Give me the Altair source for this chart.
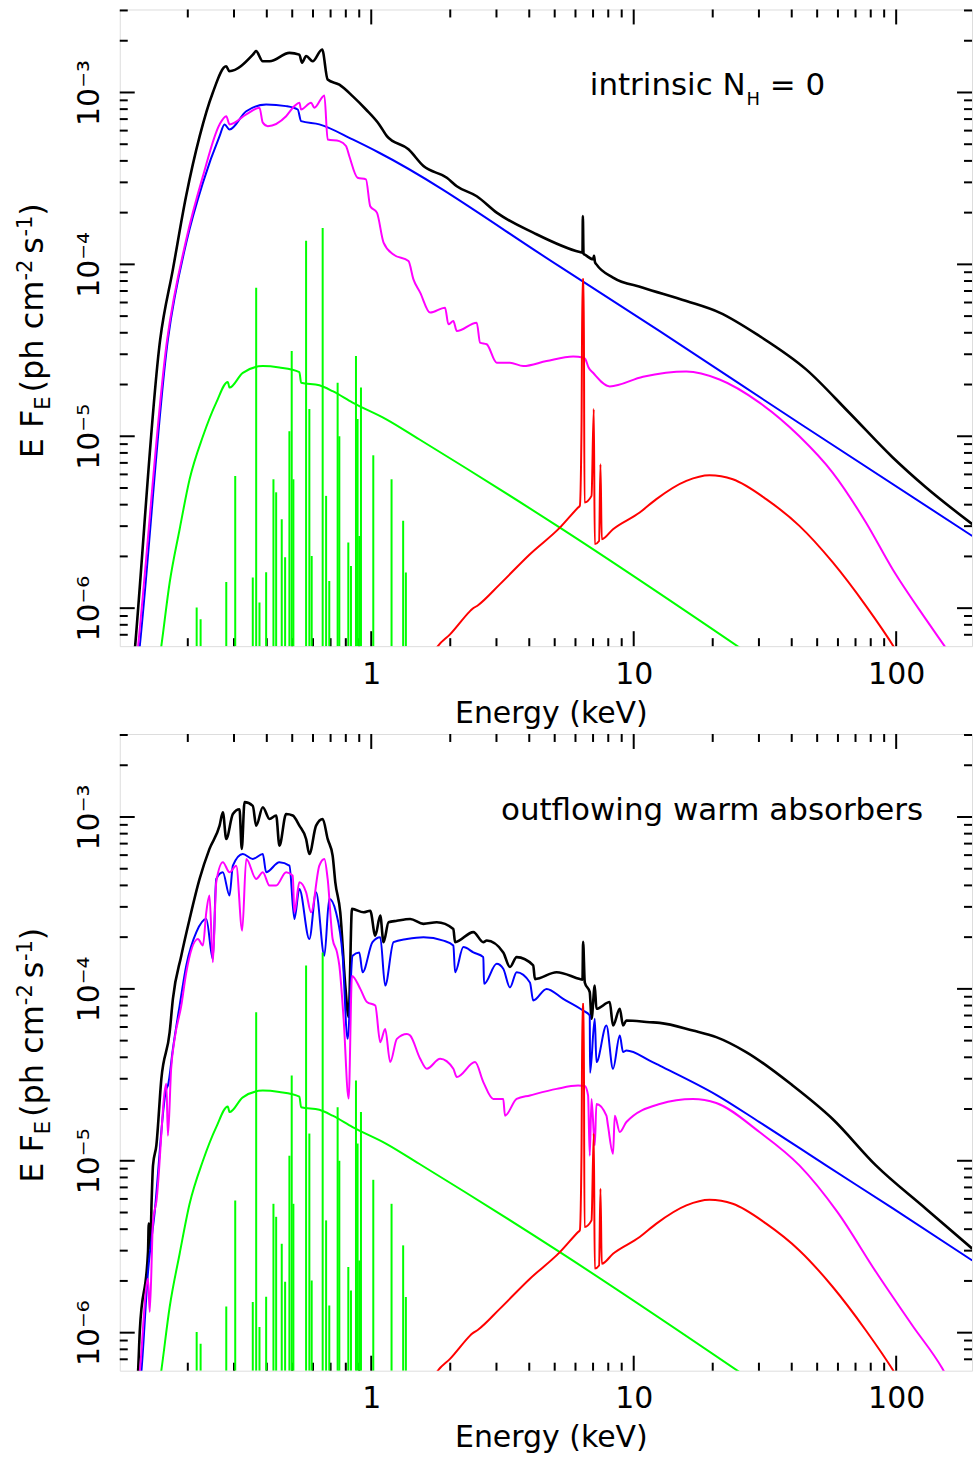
import altair as alt
import pandas as pd

# ---------------- data: energy (keV) and E F_E (ph cm^-2 s^-1) ----------------
# top panel: intrinsic N_H = 0
top_total_E = [0.12, 0.126, 0.157, 0.1755, 0.197, 0.222, 0.249, 0.280, 0.288, 0.354, 0.364, 0.386, 0.410, 0.488,
               0.532, 0.545, 0.565, 0.598, 0.650, 0.682, 0.756, 0.849, 0.955, 1.072, 1.147, 1.386, 1.581, 1.941,
               2.118, 2.523, 3.006, 4.141, 6.233, 6.38, 6.40, 6.44, 6.51, 7.00, 7.06, 7.12, 7.21, 8.34, 10.85,
               15.87, 21.23, 30.13, 45.37, 66.27, 96.8, 129.7, 195.0]
top_total_F = [2.5e-7, 6.01e-7, 3.66e-5, 9.35e-5, 2.49e-4, 5.57e-4, 9.96e-4, 1.42e-3, 1.33e-3, 1.66e-3, 1.74e-3,
               1.52e-3, 1.52e-3, 1.70e-3, 1.66e-3, 1.49e-3, 1.63e-3, 1.52e-3, 1.78e-3, 1.19e-3, 1.11e-3, 9.52e-4,
               7.96e-4, 6.52e-4, 5.57e-4, 4.67e-4, 3.73e-4, 3.19e-4, 2.85e-4, 2.49e-4, 2.00e-4, 1.53e-4, 1.18e-4,
               1.17e-4, 1.91e-4, 1.15e-4, 1.14e-4, 1.07e-4, 1.12e-4, 1.03e-4, 1.00e-4, 8.38e-5, 7.32e-5, 6.12e-5,
               5.24e-5, 3.83e-5, 2.45e-5, 1.37e-5, 7.55e-6, 5.05e-6, 3.08e-6]

top_powerlaw_E = [0.125, 0.1312, 0.168, 0.1974, 0.2284, 0.2643, 0.2761, 0.2884, 0.334, 0.3977, 0.4739, 0.5246,
                  0.5404, 0.6342, 0.849, 1.072, 5.232, 12.56, 42.78, 195.0]
top_powerlaw_F = [3.0e-7, 6.0e-7, 3.66e-5, 1.34e-4, 2.99e-4, 5.57e-4, 6.52e-4, 6.09e-4, 7.78e-4, 8.52e-4, 8.33e-4,
                  7.96e-4, 6.81e-4, 6.52e-4, 5.33e-4, 4.46e-4, 9.70e-5, 4.09e-5, 1.19e-5, 2.63e-6]

top_reflect_E = [0.1234, 0.1293, 0.1669, 0.1974, 0.2284, 0.2643, 0.2803, 0.2884, 0.334, 0.3751, 0.3862, 0.4035,
                 0.4739, 0.5096, 0.5323, 0.5404, 0.5898, 0.6071, 0.6628, 0.6822, 0.7557, 0.8013, 0.8246, 0.887,
                 0.9546, 0.991, 1.051, 1.114, 1.216, 1.386, 1.448, 1.536, 1.676, 1.911, 1.967, 2.055, 2.118, 2.523,
                 2.597, 2.754, 3.006, 3.377, 3.794, 4.657, 5.877, 6.415, 6.55, 6.73, 7.0, 8.102, 10.85, 15.87,
                 21.23, 30.13, 42.78, 57.25, 76.7, 96.8, 129.7, 152.2, 181.4]
top_reflect_F = [3.0e-7, 6.0e-7, 3.66e-5, 1.40e-4, 3.26e-4, 6.52e-4, 7.28e-4, 6.52e-4, 7.45e-4, 8.15e-4, 6.67e-4,
                 6.37e-4, 7.28e-4, 8.33e-4, 8.71e-4, 7.96e-4, 8.71e-4, 8.15e-4, 9.61e-4, 5.33e-4, 5.21e-4, 4.88e-4,
                 4.27e-4, 3.19e-4, 3.12e-4, 2.18e-4, 2.00e-4, 1.34e-4, 1.14e-4, 1.045e-4, 8.18e-5, 6.85e-5, 5.24e-5,
                 5.60e-5, 4.48e-5, 4.68e-5, 4.09e-5, 4.58e-5, 3.51e-5, 3.43e-5, 2.68e-5, 2.68e-5, 2.56e-5, 2.74e-5,
                 2.91e-5, 2.87e-5, 2.80e-5, 2.51e-5, 2.34e-5, 1.95e-5, 2.22e-5, 2.38e-5, 2.14e-5, 1.57e-5, 1.00e-5,
                 6.15e-6, 3.15e-6, 1.69e-6, 8.63e-7, 6.07e-7, 4.13e-7]

# components common to both panels
hump_E = [1.72, 1.782, 2.0, 2.379, 2.42, 2.552, 3.094, 4.023, 5.232, 6.14, 6.233, 6.325, 6.38, 6.45, 6.493, 6.906,
          7.045, 7.106, 7.38, 7.47, 7.555, 8.34, 10.54, 12.2, 15.87, 19.45, 23.85, 31.96, 42.78, 57.25, 76.7,
          98.3, 107.3]
hump_F = [5.41e-7, 5.93e-7, 7.06e-7, 9.61e-7, 9.86e-7, 1.04e-6, 1.38e-6, 2.06e-6, 2.94e-6, 3.85e-6, 3.94e-6,
          1.10e-5, 8.18e-5, 8.18e-5, 4.12e-6, 4.50e-6, 1.44e-5, 2.36e-6, 2.46e-6, 6.87e-6, 2.52e-6, 2.88e-6,
          3.60e-6, 4.31e-6, 5.50e-6, 5.93e-6, 5.62e-6, 4.31e-6, 3.01e-6, 1.85e-6, 1.03e-6, 5.9e-7, 4.72e-7]

soft_E = [0.155, 0.1586, 0.1706, 0.1862, 0.2032, 0.2284, 0.2567, 0.2841, 0.2884, 0.3241, 0.3862, 0.4468, 0.5323,
          0.5404, 0.6342, 0.7126, 0.849, 1.137, 1.522, 5.232, 25.3, 30.13]
soft_F = [4.72e-7, 6.04e-7, 1.41e-6, 2.88e-6, 5.62e-6, 1.00e-5, 1.57e-5, 2.07e-5, 1.92e-5, 2.34e-5, 2.56e-5,
          2.51e-5, 2.36e-5, 2.05e-5, 1.98e-5, 1.83e-5, 1.57e-5, 1.26e-5, 9.61e-6, 2.94e-6, 5.9e-7, 4.92e-7]

lines_E = [0.2162, 0.2238, 0.2803, 0.3032, 0.3537, 0.3644, 0.3751, 0.3977, 0.4240, 0.4342, 0.456, 0.4697, 0.4877,
           0.4977, 0.505, 0.5646, 0.581, 0.593, 0.653, 0.673, 0.692, 0.7446, 0.7557, 0.8177, 0.837, 0.8746, 0.887,
           0.9004, 0.9138, 1.018, 1.195, 1.323, 1.355]
lines_F = [1.01e-6, 8.63e-7, 1.42e-6, 5.88e-6, 1.51e-6, 7.32e-5, 1.08e-6, 1.62e-6, 5.62e-6, 4.72e-6, 3.29e-6,
           1.98e-6, 1.07e-5, 3.13e-5, 5.62e-6, 1.37e-4, 1.44e-5, 2.01e-6, 1.63e-4, 4.50e-6, 1.44e-6, 2.05e-5,
           1.00e-5, 2.41e-6, 1.76e-6, 2.93e-5, 1.26e-5, 2.63e-6, 1.92e-5, 7.75e-6, 5.62e-6, 3.22e-6, 1.61e-6]

# bottom panel: outflowing warm absorbers
wa_total_E = [0.1267, 0.1293, 0.1312, 0.1411, 0.142, 0.1438, 0.1457, 0.1474, 0.1518, 0.1586, 0.1706, 0.1755,
              0.1889, 0.2032, 0.2218, 0.2419, 0.2643, 0.272, 0.2803, 0.297, 0.3148, 0.3211, 0.329, 0.3537, 0.3644,
              0.3862, 0.4095, 0.4342, 0.4468, 0.4739, 0.5022, 0.5323, 0.5646, 0.581, 0.6163, 0.653, 0.6822,
              0.7126, 0.7296, 0.762, 0.7963, 0.8199, 0.8446, 0.9348, 0.991, 1.036, 1.082, 1.114, 1.164, 1.252,
              1.407, 1.581, 1.777, 2.055, 2.086, 2.449, 2.673, 2.754, 3.184, 3.377, 3.581, 4.141, 4.203, 5.084,
              6.233, 6.38, 6.415, 6.51, 6.80, 6.906, 7.106, 7.21, 8.102, 8.34, 8.85, 9.107, 9.38, 11.5, 12.56,
              16.81, 20.63, 26.82, 40.34, 57.25, 83.7, 129.7, 195.0]
wa_total_F = [4.42e-7, 5.93e-7, 1.01e-6, 2.96e-6, 4.31e-6, 3.08e-6, 6.01e-6, 9.40e-6, 1.23e-5, 3.00e-5, 5.60e-5,
              8.75e-5, 1.56e-4, 2.55e-4, 4.36e-4, 6.52e-4, 8.90e-4, 1.065e-3, 7.45e-4, 1.04e-3, 1.11e-3, 6.52e-4,
              1.22e-3, 1.16e-3, 8.90e-4, 1.14e-3, 9.74e-4, 1.02e-3, 6.81e-4, 1.04e-3, 1.02e-3, 8.90e-4, 7.45e-4,
              6.09e-4, 8.90e-4, 9.74e-4, 7.45e-4, 5.96e-4, 4.17e-4, 2.79e-4, 1.045e-4, 6.87e-5, 2.92e-4, 2.79e-4,
              2.85e-4, 2.04e-4, 2.67e-4, 1.87e-4, 2.44e-4, 2.49e-4, 2.55e-4, 2.39e-4, 2.44e-4, 2.23e-4, 1.87e-4,
              2.14e-4, 1.87e-4, 1.91e-4, 1.63e-4, 1.34e-4, 1.53e-4, 1.37e-4, 1.14e-4, 1.25e-4, 1.14e-4, 1.13e-4,
              1.88e-4, 1.09e-4, 9.57e-5, 6.70e-5, 1.045e-4, 7.66e-5, 8.38e-5, 6.12e-5, 7.66e-5, 6.12e-5, 6.55e-5,
              6.40e-5, 6.34e-5, 5.72e-5, 5.24e-5, 4.29e-5, 2.74e-5, 1.75e-5, 9.40e-6, 5.26e-6, 3.08e-6]

wa_powerlaw_E = [0.130, 0.1331, 0.1411, 0.1496, 0.1657, 0.168, 0.1755, 0.1862, 0.1974, 0.2156, 0.2352, 0.2492,
                 0.2567, 0.272, 0.2884, 0.297, 0.3241, 0.3537, 0.3862, 0.3977, 0.4468, 0.4877, 0.5096, 0.5323,
                 0.581, 0.6163, 0.6628, 0.692, 0.734, 0.778, 0.8127, 0.849, 0.9004, 0.9267, 1.011, 1.082, 1.130,
                 1.216, 1.367, 1.581, 1.883, 2.055, 2.086, 2.244, 2.449, 2.673, 2.69, 3.006, 3.184, 3.377, 3.581,
                 4.023, 4.141, 4.657, 5.385, 6.415, 6.80, 6.82, 7.106, 7.21, 7.87, 8.34, 8.85, 9.107, 9.38, 11.5,
                 12.56, 20.63, 30.13, 54.05, 96.8, 195.0]
wa_powerlaw_F = [4.13e-7, 5.93e-7, 2.26e-6, 5.05e-6, 2.62e-5, 2.74e-5, 4.48e-5, 8.00e-5, 1.37e-4, 2.14e-4, 2.55e-4,
                 1.49e-4, 4.36e-4, 4.77e-4, 3.49e-4, 5.21e-4, 6.09e-4, 5.70e-4, 6.09e-4, 4.77e-4, 5.45e-4, 5.21e-4,
                 2.55e-4, 3.81e-4, 1.95e-4, 3.65e-4, 1.56e-4, 3.34e-4, 2.79e-4, 1.56e-4, 5.12e-5, 1.56e-4, 1.63e-4,
                 1.25e-4, 1.87e-4, 2.00e-4, 1.045e-4, 1.87e-4, 1.95e-4, 2.00e-4, 1.91e-4, 1.79e-4, 1.25e-4, 1.75e-4,
                 1.63e-4, 1.53e-4, 1.07e-4, 1.40e-4, 1.31e-4, 1.02e-4, 1.25e-4, 1.09e-4, 8.55e-5, 1.0e-4, 8.75e-5,
                 7.48e-5, 7.0e-5, 3.25e-5, 6.70e-5, 3.75e-5, 6.12e-5, 3.43e-5, 5.35e-5, 4.29e-5, 4.38e-5, 3.83e-5,
                 3.58e-5, 2.42e-5, 1.68e-5, 9.4e-6, 5.3e-6, 2.63e-6]

wa_reflect_E = [0.1278, 0.1312, 0.1411, 0.1432, 0.1474, 0.1518, 0.1657, 0.168, 0.1728, 0.1782, 0.1889, 0.1974,
                0.2186, 0.2284, 0.2352, 0.2419, 0.2492, 0.2567, 0.272, 0.2884, 0.3059, 0.3223, 0.334, 0.3644,
                0.3862, 0.4095, 0.4342, 0.4739, 0.5022, 0.5096, 0.5323, 0.5646, 0.5898, 0.6342, 0.6628, 0.6822,
                0.7126, 0.7406, 0.7557, 0.7847, 0.82, 0.8446, 0.9083, 0.963, 1.036, 1.082, 1.130, 1.181, 1.252,
                1.367, 1.407, 1.536, 1.629, 1.83, 2.055, 2.118, 2.486, 2.673, 2.917, 3.184, 3.232, 3.581, 4.023,
                5.084, 6.14, 6.51, 6.70, 6.80, 6.906, 7.106, 7.21, 7.87, 7.98, 8.34, 8.47, 8.85, 9.38, 12.56,
                16.81, 20.63, 30.13, 42.78, 59.67, 83.7, 115.3, 150.0, 172.4]
wa_reflect_F = [4.13e-7, 5.93e-7, 2.06e-6, 1.32e-6, 4.42e-6, 5.78e-6, 2.81e-5, 1.40e-5, 3.43e-5, 5.12e-5, 8.0e-5,
                1.25e-4, 1.95e-4, 1.79e-4, 2.79e-4, 3.49e-4, 1.43e-4, 4.17e-4, 5.45e-4, 4.77e-4, 5.21e-4, 2.18e-4,
                5.70e-4, 4.36e-4, 4.77e-4, 3.99e-4, 3.99e-4, 4.77e-4, 4.56e-4, 2.79e-4, 4.17e-4, 3.65e-4, 2.79e-4,
                5.21e-4, 5.70e-4, 4.36e-4, 1.95e-4, 1.63e-4, 1.37e-4, 6.70e-5, 2.3e-5, 1.19e-4, 1.0e-4, 8.38e-5,
                8.0e-5, 4.90e-5, 5.85e-5, 3.75e-5, 5.12e-5, 5.47e-5, 5.35e-5, 3.92e-5, 3.43e-5, 3.92e-5, 3.43e-5,
                3.07e-5, 3.75e-5, 2.87e-5, 2.29e-5, 2.29e-5, 1.83e-5, 2.29e-5, 2.40e-5, 2.62e-5, 2.74e-5, 2.72e-5,
                2.40e-5, 1.07e-5, 2.29e-5, 1.23e-5, 2.14e-5, 1.83e-5, 1.60e-5, 1.10e-5, 1.83e-5, 1.47e-5, 1.68e-5,
                2.14e-5, 2.29e-5, 2.17e-5, 1.47e-5, 9.40e-6, 5.04e-6, 2.26e-6, 1.10e-6, 6.18e-7, 4.13e-7]

# axes
x_major = [1, 10, 100]
x_minor = [0.2, 0.3, 0.4, 0.5, 0.6, 0.7, 0.8, 0.9, 2, 3, 4, 5, 6, 7, 8, 9, 20, 30, 40, 50, 60, 70, 80, 90]
y_major = [1e-6, 1e-5, 1e-4, 1e-3]
y_major_labels = ["10⁻⁶", "10⁻⁵", "10⁻⁴", "10⁻³"]
y_minor = [7e-7, 8e-7, 9e-7, 2e-6, 3e-6, 4e-6, 5e-6, 6e-6, 7e-6, 8e-6, 9e-6, 2e-5, 3e-5, 4e-5, 5e-5, 6e-5, 7e-5,
           8e-5, 9e-5, 2e-4, 3e-4, 4e-4, 5e-4, 6e-4, 7e-4, 8e-4, 9e-4, 2e-3, 3e-3]
x_domain = [0.1101, 194.5]
y_domain = [6.01e-7, 3.04e-3]

# ---------------- styling / layout ----------------
W, H = 854, 638
FONT = "DejaVu Sans"
MAJ, MIN = 15, 8

label_expr = " : ".join(
    f"datum.value < {v * 3:g} ? '{lab}'" for v, lab in zip(y_major[:-1], y_major_labels[:-1])
) + f" : '{y_major_labels[-1]}'"

xs = alt.Scale(type="log", domain=x_domain, nice=False)
ys = alt.Scale(type="log", domain=y_domain, nice=False)
x_axis = alt.Axis(values=x_major, format="d", ticks=False, domain=False, grid=False, labelFont=FONT,
                  labelFontSize=30, labelPadding=13, labelColor="black", labelFlush=False,
                  title="Energy (keV)", titleFont=FONT, titleFontSize=30, titleFontWeight="normal",
                  titleColor="black", titlePadding=9, titleX=W / 2 + 5)
y_axis = alt.Axis(values=y_major, labelExpr=label_expr, labelAngle=270, labelAlign="center",
                  labelBaseline="alphabetic", labelPadding=21, ticks=False, domain=False, grid=False,
                  title=None, labelFont=FONT, labelFontSize=30, labelColor="black")


def df_of(E, F):
    return pd.DataFrame({"E": E, "F": F, "i": list(range(len(E)))})


def line(E, F, color, width):
    return alt.Chart(df_of(E, F)).mark_line(color=color, strokeWidth=width, clip=True,
                                            interpolate="monotone").encode(
        x=alt.X("E:Q", scale=xs, axis=x_axis),
        y=alt.Y("F:Q", scale=ys, axis=y_axis),
        order="i:Q",
    )


def emission_lines(E, F):
    return alt.Chart(df_of(E, F)).mark_rule(color="#00ff00", strokeWidth=2, clip=True).encode(
        x=alt.X("E:Q", scale=xs, axis=x_axis),
        y=alt.Y("F:Q", scale=ys, axis=y_axis),
        y2=alt.value(H),
    )


def tick_layers():
    out = []
    for vals, ln in ((x_major, MAJ), (x_minor, MIN)):
        d = pd.DataFrame({"v": vals})
        for y0, y1 in ((H, H - ln), (0, ln)):
            out.append(alt.Chart(d).mark_rule(color="black", strokeWidth=2).encode(
                x=alt.X("v:Q", scale=xs, axis=x_axis), y=alt.value(y0), y2=alt.value(y1)))
    for vals, ln in ((y_major, MAJ), (y_minor, MIN)):
        d = pd.DataFrame({"v": vals})
        for x0, x1 in ((0, ln), (W, W - ln)):
            out.append(alt.Chart(d).mark_rule(color="black", strokeWidth=2).encode(
                y=alt.Y("v:Q", scale=ys, axis=y_axis), x=alt.value(x0), x2=alt.value(x1)))
    return out


def text_piece(txt, x, y, size, angle=0):
    kw = dict(font=FONT, fontSize=size, align="left", baseline="alphabetic", color="black")
    if angle:
        kw["angle"] = angle
    return alt.Chart(pd.DataFrame({"t": [txt]})).mark_text(**kw).encode(
        text="t:N", x=alt.value(x), y=alt.value(y))


# y-axis title "E F_E (ph cm^-2 s^-1)" built from pieces (rotated)
ytitle_parts = ["E F", "E", "(ph cm", "-2", "s", "-1", ")"]
ytitle_style = [(-77, 449.8, 32), (-70, 401.0, 21), (-77, 383.7, 32), (-88, 271.7, 21),
                (-77, 244.8, 32), (-88, 227.5, 21), (-77, 206.6, 32)]


def ytitle():
    return [text_piece(t, x, y, s, angle=270) for t, (x, y, s) in zip(ytitle_parts, ytitle_style)]


top_note = ["intrinsic N", "H", "= 0"]
top_note_style = [(471, 86, 31), (628, 96, 18), (651.4, 86, 31)]
bottom_note = ["outflowing warm absorbers"]
bottom_note_style = [(382, 86, 31)]


def panel(tot, pl, refl, notes, note_style):
    layers = tick_layers()
    layers += [
        line(tot[0], tot[1], "black", 2.6),
        line(pl[0], pl[1], "#0000ff", 2),
        line(refl[0], refl[1], "#ff00ff", 2),
        line(soft_E, soft_F, "#00ff00", 2),
        emission_lines(lines_E, lines_F),
        line(hump_E, hump_F, "#ff0000", 2),
    ]
    layers += ytitle()
    layers += [text_piece(t, x, y, s) for t, (x, y, s) in zip(notes, note_style)]
    return alt.layer(*layers).properties(width=W, height=H)


top = panel((top_total_E, top_total_F), (top_powerlaw_E, top_powerlaw_F), (top_reflect_E, top_reflect_F),
            top_note, top_note_style)
bottom = panel((wa_total_E, wa_total_F), (wa_powerlaw_E, wa_powerlaw_F), (wa_reflect_E, wa_reflect_F),
               bottom_note, bottom_note_style)

chart = alt.vconcat(top, bottom, spacing=3).properties(
    padding={"left": 14, "top": 6, "right": 0, "bottom": 0}
).configure_view(stroke="black", strokeWidth=2).configure(background="white")

chart.save("out.html", embed_options={"renderer": "svg", "actions": False})
